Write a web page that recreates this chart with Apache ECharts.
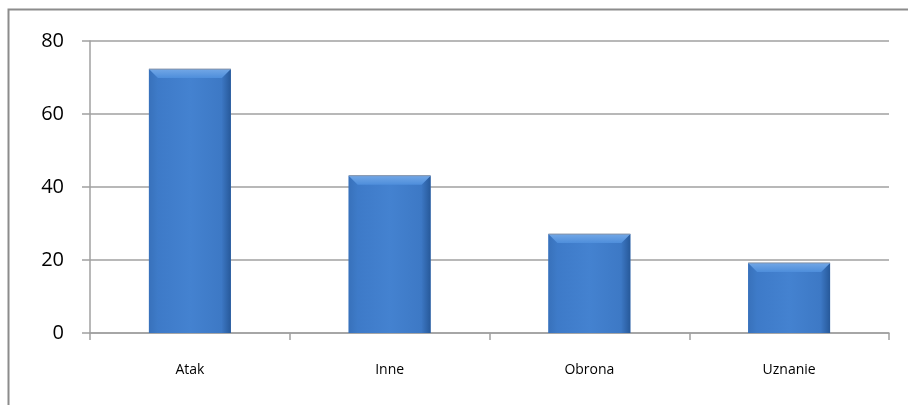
<!DOCTYPE html>
<html>
<head>
<meta charset="utf-8">
<script src="https://cdn.jsdelivr.net/npm/echarts@6/dist/echarts.min.js"></script>
<style>
  html, body { margin: 0; padding: 0; background: #fff; }
  #chart { width: 908px; height: 405px; }
</style>
</head>
<body>
<div id="chart"></div>
<script>
const categories = ['Atak', 'Inne', 'Obrona', 'Uznanie']
const values = [72.3, 43.1, 27.1, 19.2]
const yTicks = [0, 20, 40, 60, 80]

const chart = echarts.init(document.getElementById('chart'))

// bevelled bar like the office 3d style
function renderBar(params, api) {
  const top = api.coord([api.value(0), api.value(1)])
  const base = api.coord([api.value(0), 0])
  const w = api.size([1, 0])[0] * 0.41
  const x0 = top[0] - w / 2
  const x1 = top[0] + w / 2
  const y0 = top[1]
  const y1 = base[1]
  const b = 9
  return {
    type: 'group',
    children: [
      {
        type: 'rect',
        shape: { x: x0, y: y0, width: w, height: y1 - y0 },
        style: {
          fill: new echarts.graphic.LinearGradient(0, 0, 1, 0, [
            { offset: 0, color: '#3c78c6' },
            { offset: 0.5, color: '#4482d0' },
            { offset: 1, color: '#3b76c2' }
          ])
        }
      },
      {
        type: 'polygon',
        shape: { points: [[x0, y0], [x0 + b, y0 + b], [x0 + b, y1], [x0, y1]] },
        style: {
          fill: new echarts.graphic.LinearGradient(0, 0, 1, 0, [
            { offset: 0, color: '#3871bb' },
            { offset: 1, color: '#3e7bc8' }
          ])
        }
      },
      {
        type: 'polygon',
        shape: { points: [[x1, y0], [x1 - b, y0 + b], [x1 - b, y1], [x1, y1]] },
        style: {
          fill: new echarts.graphic.LinearGradient(0, 0, 1, 0, [
            { offset: 0, color: '#3c77c3' },
            { offset: 1, color: '#27599a' }
          ])
        }
      },
      {
        type: 'polygon',
        shape: { points: [[x0, y0], [x1, y0], [x1 - b, y0 + b], [x0 + b, y0 + b]] },
        style: {
          fill: new echarts.graphic.LinearGradient(0, 0, 0, 1, [
            { offset: 0, color: '#72a7e6' },
            { offset: 1, color: '#4e8edb' }
          ])
        }
      },
      {
        type: 'line',
        shape: { x1: x0, y1: y0, x2: x1, y2: y0 },
        style: { stroke: '#8391a6', lineWidth: 1 }
      }
    ]
  }
}

chart.setOption({
  animation: false,
  graphic: [{
    type: 'polyline',
    shape: { points: [[8.5, 405], [8.5, 9.5], [908, 9.5]] },
    style: { stroke: '#8c8c8c', lineWidth: 2, fill: null }
  }],
  grid: {
    left: 90,
    right: 19,
    top: 41,
    bottom: 72
  },
  xAxis: {
    type: 'category',
    data: categories,
    axisLine: { lineStyle: { color: '#a0a0a0', width: 1.5 } },
    axisTick: { show: true, length: 7, lineStyle: { color: '#a0a0a0', width: 1.5 } },
    axisLabel: {
      color: '#000',
      fontSize: 14,
      fontFamily: 'Open Sans, Liberation Sans, sans-serif',
      margin: 30
    }
  },
  yAxis: {
    type: 'value',
    min: 0,
    max: 80,
    interval: 20,
    axisLine: { show: true, lineStyle: { color: '#a0a0a0', width: 1.5 } },
    axisTick: { show: true, length: 8, lineStyle: { color: '#a0a0a0', width: 1.5 } },
    splitLine: { lineStyle: { color: '#a0a0a0', width: 1.5 } },
    axisLabel: {
      color: '#000',
      fontSize: 20,
      fontFamily: 'Open Sans, Liberation Sans, sans-serif',
      margin: 26,
      formatter: v => (yTicks.includes(v) ? String(v) : '')
    }
  },
  series: [{
    type: 'custom',
    renderItem: renderBar,
    data: values.map((v, i) => [i, v]),
    encode: { x: 0, y: 1 },
    z: 3
  }]
})
</script>
</body>
</html>
